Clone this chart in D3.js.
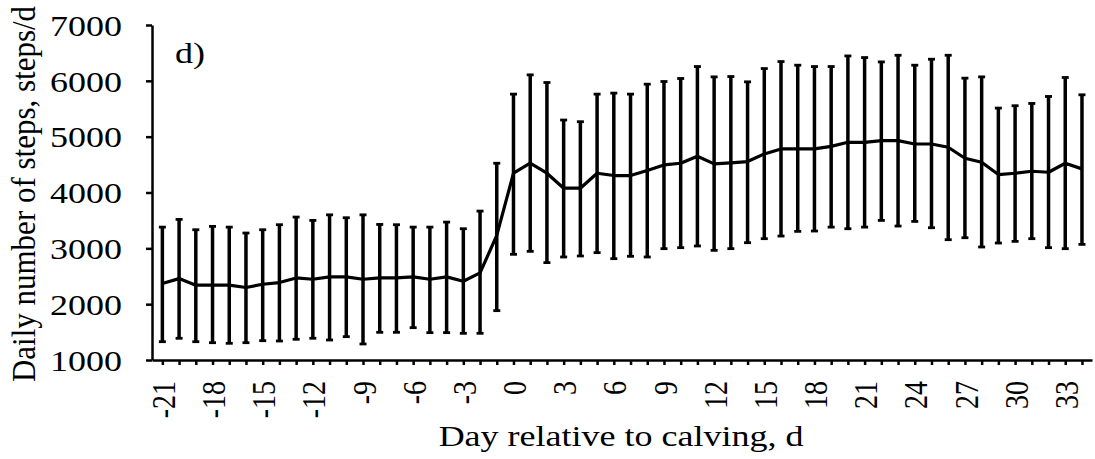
<!DOCTYPE html>
<html>
<head>
<meta charset="utf-8">
<script src="https://cdn.jsdelivr.net/npm/d3@7"></script>
<style>
  body { margin: 0; background: #fff; }
  svg { display: block; }
  text { font-family: "Liberation Serif", "Times New Roman", serif; fill: #000; }
</style>
</head>
<body>
<svg id="chart" width="1095" height="459"></svg>
<script>
// days relative to calving
var days = [-21,-20,-19,-18,-17,-16,-15,-14,-13,-12,-11,-10,-9,-8,-7,-6,-5,-4,-3,-2,-1,
            0,1,2,3,4,5,6,7,8,9,10,11,12,13,14,15,16,17,18,19,20,21,22,23,24,25,26,27,28,29,30,31,32,33,34];

// mean daily steps
var mean_steps = [2370,2458,2340,2340,2340,2298,2357,2387,2470,2446,2488,2488,2446,2470,2470,2488,2446,2488,2410,2560,3232,
                  4345,4524,4345,4077,4077,4345,4304,4304,4393,4494,
                  4524,4649,4512,4530,4554,4690,4780,4780,4780,4827,
                  4899,4899,4929,4929,4869,4869,4810,4613,4542,4321,
                  4345,4381,4363,4524,4423];

// error bar ends
var upper_steps = [3380,3518,3333,3393,3380,3274,3333,3423,3560,3500,3600,3548,3600,3428,3423,3380,3380,3470,3351,3667,4524,
                   5762,6107,5970,5298,5268,5762,5780,5762,5940,5988,
                   6042,6256,6071,6077,5982,6220,6345,6280,6256,6256,
                   6446,6417,6339,6458,6280,6387,6458,6048,6071,5512,
                   5554,5595,5720,6060,5750];

var lower_steps = [1328,1389,1328,1310,1299,1310,1346,1340,1371,1389,1358,1418,1287,1496,1496,1579,1490,1490,1478,1478,1884,
                   2893,2946,2744,2845,2863,2923,2815,2857,2845,2994,
                   3012,3042,2964,2994,3101,3173,3220,3304,3310,3380,
                   3351,3380,3500,3399,3482,3369,3155,3190,3024,3095,
                   3125,3173,3012,2994,3071];

var y_ticks = [1000,2000,3000,4000,5000,6000,7000];
var x_labels = [-21,-18,-15,-12,-9,-6,-3,0,3,6,9,12,15,18,21,24,27,30,33];

(function(){
var SX = 1.2; // text in the original is stretched sideways

var svg = d3.select("#chart");
var m = {left: 152, right: 1092, top: 25, bottom: 360};

var x = d3.scaleLinear().domain([-21.62, 34.6]).range([m.left, m.right]);
var y = d3.scaleLinear().domain([1000, 7000]).range([m.bottom, m.top]);

var data = days.map(function(d, i){
    return {day: d, m: mean_steps[i], hi: upper_steps[i], lo: lower_steps[i]};
});

// axes
var yAxis = svg.append("g")
    .attr("transform", "translate(" + m.left + ",0)")
    .call(d3.axisLeft(y).tickValues(y_ticks).tickSize(6).tickSizeOuter(0).tickFormat(d3.format("d")));
yAxis.select(".domain").attr("stroke-width", 2.5);
yAxis.selectAll(".tick line").attr("stroke-width", 2.5);
yAxis.selectAll(".tick text")
    .attr("x", -30 / SX)
    .attr("dy", "0.34em")
    .attr("transform", "scale(" + SX + ",1)")
    .style("font-size", "30px");

var xAxis = svg.append("g")
    .attr("transform", "translate(0," + m.bottom + ")")
    .call(d3.axisBottom(x).tickValues(days).tickSize(5).tickSizeOuter(0)
          .tickFormat(function(d){ return x_labels.indexOf(d) >= 0 ? d : ""; }));
xAxis.select(".domain").attr("stroke-width", 2.5);
xAxis.selectAll(".tick line").attr("stroke-width", 2.5);
xAxis.selectAll(".tick text")
    .attr("x", 0).attr("y", 0).attr("dy", "0.36em")
    .attr("text-anchor", "end")
    .attr("transform", "translate(0,21) rotate(-90) scale(1," + SX + ")")
    .style("font-size", "28px");

// error bars
var bars = svg.append("g").selectAll("g.err")
    .data(data)
    .enter().append("g").classed("err", true);

bars.append("line")
    .attr("x1", function(d){ return x(d.day); })
    .attr("x2", function(d){ return x(d.day); })
    .attr("y1", function(d){ return y(d.lo); })
    .attr("y2", function(d){ return y(d.hi); })
    .attr("stroke", "#000").attr("stroke-width", 3.5);

bars.selectAll("line.cap")
    .data(function(d){ return [d.lo, d.hi].map(function(v){ return {day: d.day, v: v}; }); })
    .enter().append("line").classed("cap", true)
    .attr("x1", function(d){ return x(d.day) - 3.5; })
    .attr("x2", function(d){ return x(d.day) + 3.5; })
    .attr("y1", function(d){ return y(d.v); })
    .attr("y2", function(d){ return y(d.v); })
    .attr("stroke", "#000").attr("stroke-width", 2.8);

// mean line
svg.append("path")
    .datum(data)
    .attr("fill", "none")
    .attr("stroke", "#000")
    .attr("stroke-width", 3.2)
    .attr("stroke-linejoin", "round")
    .attr("d", d3.line()
          .x(function(d){ return x(d.day); })
          .y(function(d){ return y(d.m); }));

// titles
svg.append("text")
    .attr("transform", "translate(621,446) scale(" + SX + ",1)")
    .attr("text-anchor", "middle")
    .style("font-size", "30px")
    .text("Day relative to calving, d");

svg.append("text")
    .attr("transform", "translate(35,194) rotate(-90) scale(1,1.1)")
    .attr("text-anchor", "middle")
    .style("font-size", "31px")
    .text("Daily number of steps, steps/d");

svg.append("text")
    .attr("transform", "translate(175,63) scale(" + SX + ",1)")
    .style("font-size", "30px")
    .text("d)");
})();
</script>
</body>
</html>
